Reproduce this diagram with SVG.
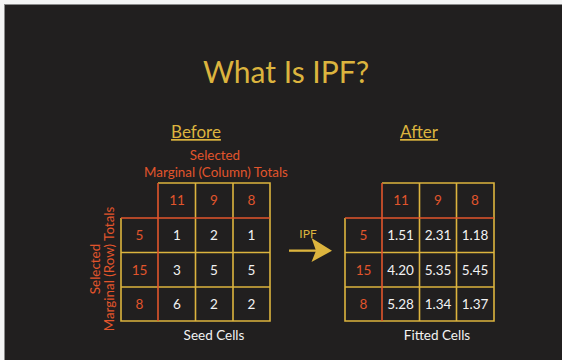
<svg xmlns="http://www.w3.org/2000/svg" width="562" height="360" viewBox="0 0 562 360">
<style>
text{font-family:Lato,"Open Sans","Liberation Sans",sans-serif;text-anchor:middle}
.title{fill:#dcb43e;font-size:30px}
.head{fill:#dcb43e;font-size:17px;text-decoration:underline}
.lab{fill:#e2552c;font-size:13.4px}
.tot{fill:#e2552c;font-size:13.5px}
.val{fill:#f2f2f2;font-size:13.5px}
.cap{fill:#f2f2f2;font-size:13.5px}
.ipf{fill:#dcb43e;font-size:12px}
.y{stroke:#dcb43e;stroke-width:1.6;fill:none}
.o{stroke:#e2552c;stroke-width:1.6;fill:none}
</style>
<rect x="0" y="0" width="562" height="360" fill="#f4f4f4"/>
<rect x="4.5" y="4.5" width="558" height="356" fill="#211f1f" stroke="#8a8a8a" stroke-width="1"/>
<text class="title" x="286" y="83">What Is IPF?</text>
<g id="before">
<text class="head" x="196" y="138">Before</text>
<text class="lab" x="215" y="160">Selected</text>
<text class="lab" x="216" y="177">Marginal (Column) Totals</text>
<text class="lab" transform="translate(100,269) rotate(-90)" x="0" y="0">Selected</text>
<text class="lab" transform="translate(113.5,269) rotate(-90)" x="0" y="0">Marginal (Row) Totals</text>
<path class="y" d="M158,183H270V321H121V218M121,252.5H270M121,287H270M195.5,183V321M233,183V321"/>
<path class="o" d="M121,218H270M158,183V321"/>
<text class="tot" x="177" y="205">11</text><text class="tot" x="214" y="205">9</text><text class="tot" x="251.5" y="205">8</text>
<text class="tot" x="139.5" y="240">5</text><text class="tot" x="139.5" y="274.5">15</text><text class="tot" x="139.5" y="309">8</text>
<text class="val" x="177" y="240">1</text><text class="val" x="214" y="240">2</text><text class="val" x="251.5" y="240">1</text>
<text class="val" x="177" y="274.5">3</text><text class="val" x="214" y="274.5">5</text><text class="val" x="251.5" y="274.5">5</text>
<text class="val" x="177" y="309">6</text><text class="val" x="214" y="309">2</text><text class="val" x="251.5" y="309">2</text>
<text class="cap" x="214" y="340">Seed Cells</text>
</g>
<g id="connectors">
<text class="ipf" x="308" y="238">IPF</text>
<path d="M289,249.5H318V251.8H289Z" fill="#dcb43e"/>
<path d="M311.5,238L332,250.7L311.5,262L316,250.7Z" fill="#dcb43e"/>
</g>
<g id="after">
<text class="head" x="419" y="138">After</text>
<path class="y" d="M382,183H494V321H345V218M345,252.5H494M345,287H494M419.5,183V321M456.5,183V321"/>
<path class="o" d="M345,218H494M382,183V321"/>
<text class="tot" x="401" y="205">11</text><text class="tot" x="438" y="205">9</text><text class="tot" x="475" y="205">8</text>
<text class="tot" x="363.5" y="240">5</text><text class="tot" x="363.5" y="274.5">15</text><text class="tot" x="363.5" y="309">8</text>
<text class="val" x="400.5" y="240">1.51</text><text class="val" x="438" y="240">2.31</text><text class="val" x="475" y="240">1.18</text>
<text class="val" x="400.5" y="274.5">4.20</text><text class="val" x="438" y="274.5">5.35</text><text class="val" x="475" y="274.5">5.45</text>
<text class="val" x="400.5" y="309">5.28</text><text class="val" x="438" y="309">1.34</text><text class="val" x="475" y="309">1.37</text>
<text class="cap" x="437" y="340">Fitted Cells</text>
</g>
</svg>
